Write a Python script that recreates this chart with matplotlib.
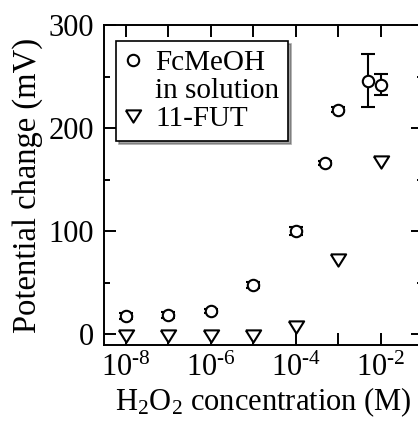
import numpy as np
import matplotlib.pyplot as plt
from matplotlib.lines import Line2D
from matplotlib.ticker import FixedLocator, FuncFormatter, MultipleLocator

plt.rcParams["font.family"] = ["Liberation Serif", "DejaVu Serif"]
plt.rcParams["mathtext.fontset"] = "custom"
plt.rcParams["mathtext.rm"] = "Liberation Serif"
plt.rcParams["mathtext.it"] = "Liberation Serif:italic"

# FcMeOH in solution
conc_fc = [1e-8, 1e-7, 1e-6, 1e-5, 1e-4, 5e-4, 1e-3, 5e-3, 1e-2]
dv_fc = [18, 19, 23, 48, 100, 166, 218, 246, 242]
err_fc = [3, 3, 2, 3, 4, 2, 2, 26, 10]

# 11-FUT modified electrode
conc_fut = [1e-8, 1e-7, 1e-6, 1e-5, 1e-4, 1e-3, 1e-2]
dv_fut = [-2, -2, -2, -2, 7, 72, 167]

fig = plt.figure(figsize=(4.18, 4.21), dpi=100)
ax = fig.add_axes([104 / 418, 76 / 421, 319 / 418, 320 / 421])

# triangle a bit wider than it is tall
tri = [(-1, 0.8), (1, 0.8), (0, -0.8), (-1, 0.8)]

ax.errorbar(conc_fc, dv_fc, yerr=err_fc, fmt="o", ms=8.2, mfc="white",
            mec="black", mew=1.5, ecolor="black", elinewidth=1.5,
            capsize=5, capthick=1.5, zorder=3)
ax.plot(conc_fut, dv_fut, ls="none", marker=tri, ms=11, mfc="white",
        mec="black", mew=1.5, zorder=3)

ax.set_xscale("log")
ax.set_xlim(10 ** -8.51, 10 ** -1.0)
ax.set_ylim(-10.4, 300)

ax.xaxis.set_major_locator(FixedLocator([10.0 ** e for e in range(-8, 0)]))
ax.xaxis.set_minor_locator(FixedLocator([]))


def dec_label(v, pos):
    e = int(round(np.log10(v)))
    if e % 2:
        return ""
    return r"$10^{\text{%d}}$" % e


ax.xaxis.set_major_formatter(FuncFormatter(dec_label))
ax.yaxis.set_major_locator(MultipleLocator(100))
ax.yaxis.set_minor_locator(MultipleLocator(50))

ax.tick_params(which="both", direction="in", top=True, right=True,
               width=1.4, labelsize=22)
ax.tick_params(which="major", length=8.6)
ax.tick_params(which="minor", length=4.3)
ax.tick_params(axis="y", pad=7)
ax.tick_params(axis="x", pad=6)
for s in ax.spines.values():
    s.set_linewidth(1.4)

ax.set_xlabel(r"H$_2$O$_2$ concentration (M)", fontsize=22, labelpad=2)
ax.set_ylabel("Potential change (mV)", fontsize=23.5, labelpad=4)

handles = [
    Line2D([], [], ls="none", marker="o", ms=8.2, mfc="white", mec="black", mew=1.5),
    Line2D([], [], ls="none"),
    Line2D([], [], ls="none", marker=tri, ms=11, mfc="white", mec="black", mew=1.5),
]
labels = ["FcMeOH", "in solution", "11-FUT"]
leg = ax.legend(handles, labels, loc="upper left",
                bbox_to_anchor=((116 - 104) / 319, 1 - (41 - 25) / 320),
                fontsize=21, frameon=True, fancybox=False, shadow=True,
                handlelength=0.55, handletextpad=0.5, labelspacing=0.06,
                borderpad=0.3, borderaxespad=0)
leg.get_frame().set_edgecolor("black")
leg.get_frame().set_linewidth(1.2)

fig.savefig("out.png", dpi=100)
